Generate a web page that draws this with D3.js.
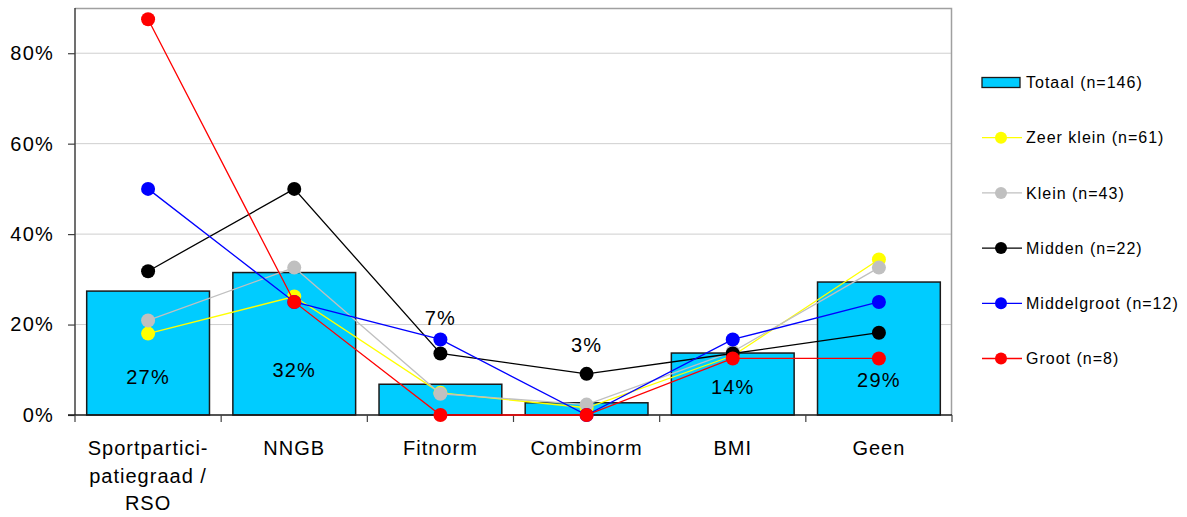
<!DOCTYPE html>
<html>
<head>
<meta charset="utf-8">
<script src="https://cdn.jsdelivr.net/npm/d3@7"></script>
<style>
  html, body { margin: 0; padding: 0; background: #fff; }
  svg { display: block; font-family: "Liberation Sans", Arial, sans-serif; }
</style>
</head>
<body>
<svg id="chart" width="1187" height="517"></svg>
<script>
// Categories (multi-line labels split on "\n")
const categories = ["Sportpartici-\npatiegraad /\nRSO", "NNGB", "Fitnorm", "Combinorm", "BMI", "Geen"];

// Totaal (n=146), percentages
const totaal = [27.4, 31.5, 6.8, 2.7, 13.7, 29.4];
// Where each bar's percentage label sits, in percent units
const totaalLabelAt = [8.5, 10, 21.5, 15.5, 6.3, 7.8];

// Per-size series, percentages
const zeerKlein   = [18.0, 26.2, 4.9, 1.6, 13.1, 34.4];
const klein       = [20.9, 32.6, 4.7, 2.3, 14.0, 32.6];
const midden      = [31.8, 50.0, 13.6, 9.1, 13.6, 18.2];
const middelgroot = [50.0, 25.0, 16.7, 0.0, 16.7, 25.0];
const groot       = [87.5, 25.0, 0.0, 0.0, 12.5, 12.5];

const seriesNames  = ["Zeer klein (n=61)", "Klein (n=43)", "Midden (n=22)", "Middelgroot (n=12)", "Groot (n=8)"];
const seriesColors = ["#ffff00", "#c0c0c0", "#000000", "#0000ff", "#ff0000"];
const seriesValues = [zeerKlein, klein, midden, middelgroot, groot];

const yTicks = [0, 20, 40, 60, 80];

const svg = d3.select("#chart");
const plot = { left: 75, right: 952, top: 8, bottom: 415 };

const x = d3.scaleBand().domain(categories).range([plot.left, plot.right]).paddingInner(0.16).paddingOuter(0.08);
const xc = d3.scaleBand().domain(categories).range([plot.left, plot.right]);
const y = d3.scaleLinear().domain([0, 90]).range([plot.bottom, plot.top]);

// Gridlines
svg.append("g").selectAll("line").data(yTicks.filter(d => d > 0)).join("line")
  .attr("x1", plot.left).attr("x2", plot.right)
  .attr("y1", d => y(d)).attr("y2", d => y(d))
  .attr("stroke", "#cfcfcf").attr("stroke-width", 1);

// Top and right frame
svg.append("path")
  .attr("d", `M${plot.left},${plot.top + 0.5}H${plot.right - 0.5}V${plot.bottom}`)
  .attr("fill", "none").attr("stroke", "#a0a0a0").attr("stroke-width", 1.5);

// Bars
svg.append("g").selectAll("rect").data(totaal).join("rect")
  .attr("x", (d, i) => x(categories[i]))
  .attr("width", x.bandwidth())
  .attr("y", d => y(d))
  .attr("height", d => y(0) - y(d))
  .attr("fill", "#00ccff").attr("stroke", "#1a1a1a").attr("stroke-width", 1.5);

// Bar value labels
svg.append("g").selectAll("text").data(totaal).join("text")
  .attr("x", (d, i) => xc(categories[i]) + xc.bandwidth() / 2)
  .attr("y", (d, i) => y(totaalLabelAt[i]))
  .attr("dy", "0.35em")
  .attr("text-anchor", "middle")
  .attr("font-size", 20)
  .attr("letter-spacing", "1.2px")
  .attr("fill", "#000")
  .text(d => Math.round(d) + "%");

// Y axis
const yAxis = svg.append("g").attr("transform", `translate(${plot.left},0)`)
  .call(d3.axisLeft(y).tickValues(yTicks).tickFormat(d => d + "%").tickSize(7).tickPadding(14));
yAxis.select(".domain").attr("stroke", "#404040").attr("stroke-width", 1.5)
  .attr("d", `M0,${plot.top}V${plot.bottom}`);
yAxis.selectAll(".tick line").attr("stroke", "#404040").attr("stroke-width", 1.2);
yAxis.selectAll(".tick text").attr("font-size", 20).attr("letter-spacing", "1.2px")
  .attr("fill", "#000").attr("font-family", "Liberation Sans, Arial, sans-serif");

// X axis line and tick marks at category boundaries
const boundaries = categories.map(c => xc(c)).concat([plot.right]);
svg.append("line").attr("x1", plot.left - 7).attr("x2", plot.right)
  .attr("y1", plot.bottom).attr("y2", plot.bottom)
  .attr("stroke", "#1a1a1a").attr("stroke-width", 1.5);
svg.append("g").selectAll("line").data(boundaries).join("line")
  .attr("x1", d => d).attr("x2", d => d)
  .attr("y1", plot.bottom).attr("y2", plot.bottom + 7)
  .attr("stroke", "#404040").attr("stroke-width", 1.2);

// Category labels
const catG = svg.append("g").selectAll("text").data(categories).join("text")
  .attr("x", d => xc(d) + xc.bandwidth() / 2)
  .attr("y", 448)
  .attr("text-anchor", "middle")
  .attr("font-size", 20)
  .attr("letter-spacing", "1px")
  .attr("fill", "#000");
catG.each(function(d) {
  d3.select(this).selectAll("tspan").data(d.split("\n")).join("tspan")
    .attr("x", xc(d) + xc.bandwidth() / 2)
    .attr("dy", (t, i) => i === 0 ? "0.35em" : "27.6")
    .text(t => t);
});

// Series lines and markers
const line = d3.line().x((d, i) => xc(categories[i]) + xc.bandwidth() / 2).y(d => y(d));
seriesValues.forEach((vals, s) => {
  const g = svg.append("g");
  g.append("path").datum(vals).attr("d", line)
    .attr("fill", "none").attr("stroke", seriesColors[s]).attr("stroke-width", 1.3);
  g.selectAll("circle").data(vals).join("circle")
    .attr("cx", (d, i) => xc(categories[i]) + xc.bandwidth() / 2)
    .attr("cy", d => y(d))
    .attr("r", 7)
    .attr("fill", seriesColors[s]);
});

// Legend
const legend = svg.append("g").attr("font-size", 16).attr("letter-spacing", "1px");
const legX = 982, legTextX = 1026, legY0 = 82.5, legStep = 55.2;
legend.append("rect").attr("x", legX).attr("y", legY0 - 5).attr("width", 38).attr("height", 10)
  .attr("fill", "#00ccff").attr("stroke", "#1a1a1a").attr("stroke-width", 1.3);
legend.append("text").attr("x", legTextX).attr("y", legY0).attr("dy", "0.35em").text("Totaal (n=146)");
seriesNames.forEach((name, s) => {
  const yy = legY0 + legStep * (s + 1);
  legend.append("line").attr("x1", legX).attr("x2", legX + 40).attr("y1", yy).attr("y2", yy)
    .attr("stroke", seriesColors[s]).attr("stroke-width", 1.3);
  legend.append("circle").attr("cx", legX + 19).attr("cy", yy).attr("r", 6).attr("fill", seriesColors[s]);
  legend.append("text").attr("x", legTextX).attr("y", yy).attr("dy", "0.35em").text(name);
});
</script>
</body>
</html>
